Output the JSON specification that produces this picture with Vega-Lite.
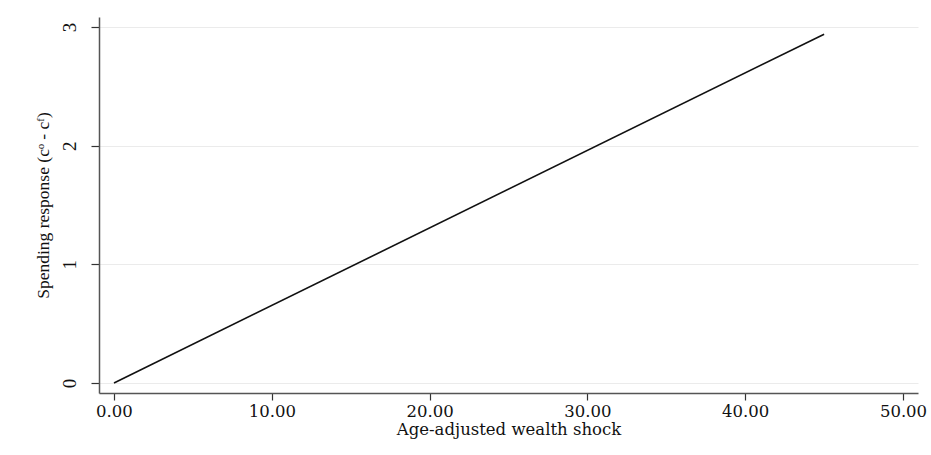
{
  "$schema": "https://vega.github.io/schema/vega-lite/v6.json",
  "width": 819,
  "height": 376,
  "autosize": {"type": "none"},
  "padding": {"left": 99, "top": 17, "right": 13, "bottom": 62},
  "background": "white",
  "config": {"view": {"stroke": null}},
  "data": {"values": [
    {"shock": 0, "response": 0},
    {"shock": 45, "response": 2.94}
  ]},
  "mark": {"type": "line", "color": "#111111", "strokeWidth": 1.6, "clip": true},
  "encoding": {
    "x": {
      "field": "shock", "type": "quantitative",
      "scale": {"domain": [-0.95, 50.95], "nice": false, "zero": false},
      "axis": {
        "values": [0, 10, 20, 30, 40, 50], "format": ".2f",
        "title": "Age-adjusted wealth shock",
        "grid": false, "domainColor": "#555555", "domainWidth": 1.5,
        "tickColor": "#333333", "tickSize": 7, "tickWidth": 1.2,
        "labelFont": "DejaVu Serif", "labelFontSize": 16.5, "labelColor": "#111111",
        "labelPadding": 3,
        "titleFont": "DejaVu Serif", "titleFontSize": 16.5, "titleFontWeight": "normal", "titleColor": "#111111",
        "titlePadding": 2
      }
    },
    "y": {
      "field": "response", "type": "quantitative",
      "scale": {"domain": [-0.085, 3.085], "nice": false, "zero": false},
      "axis": {
        "values": [0, 1, 2, 3],
        "title": "Spending response (cᵒ - cᶠ)",
        "grid": true, "gridColor": "#ebebeb", "gridWidth": 1.2,
        "domainColor": "#555555", "domainWidth": 1.5,
        "tickColor": "#333333", "tickSize": 8, "tickWidth": 1.2,
        "labelFont": "Liberation Serif", "labelFontSize": 19, "labelColor": "#111111",
        "labelAngle": -90, "labelAlign": "center", "labelBaseline": "bottom", "labelPadding": 12,
        "titleFont": "Liberation Serif", "titleFontSize": 17.5, "titleFontWeight": "normal", "titleColor": "#111111",
        "titlePadding": 8
      }
    }
  }
}
